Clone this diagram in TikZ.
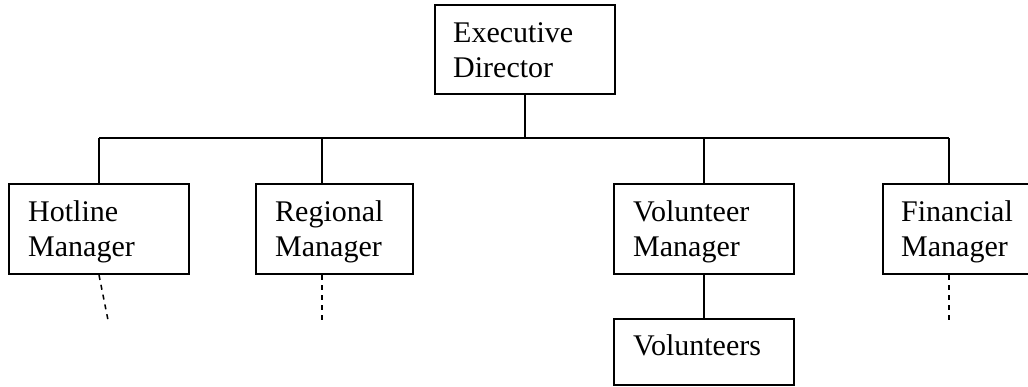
\documentclass[tikz,border=0pt]{standalone}
\usepackage{fontspec}
\setmainfont{Liberation Serif}
\usetikzlibrary{calc}
\begin{document}
\begin{tikzpicture}[x=1pt,y=-1pt,
  box/.style={draw, line width=2pt, inner sep=0pt, anchor=north west},
  lbl/.style={anchor=base west, align=left, inner sep=0pt, font=\fontsize{30}{35}\selectfont},
  conn/.style={line width=2pt},
  dashline/.style={line width=1.5pt, dash pattern=on 5pt off 5pt}]
\useasboundingbox (0,0) rectangle (1028,386);
% boxes
\node[box, minimum width=180pt, minimum height=89pt] (ed)  at (434,4) {};
\node[box, minimum width=180pt, minimum height=90pt] (hot) at (8,183) {};
\node[box, minimum width=157pt, minimum height=90pt] (reg) at (255,183) {};
\node[box, minimum width=180pt, minimum height=90pt] (vm)  at (613,183) {};
\node[box, minimum width=180pt, minimum height=90pt] (fin) at (882,183) {};
\node[box, minimum width=180pt, minimum height=66pt] (vol) at (613,318) {};
% labels (base anchor = baseline of the last line)
\node[lbl] (edt)  at ($(ed.north west)+(19,73)$)  {Executive\\Director};
\node[lbl] (hott) at ($(hot.north west)+(20,73)$) {Hotline\\Manager};
\node[lbl] (regt) at ($(reg.north west)+(20,73)$) {Regional\\Manager};
\node[lbl] (vmt)  at ($(vm.north west)+(20,73)$)  {Volunteer\\Manager};
\node[lbl] (fint) at ($(fin.north west)+(19,73)$) {Financial\\Manager};
\node[lbl] (volt) at ($(vol.north west)+(20,37)$) {Volunteers};
% attach points
\coordinate (regtop) at ($(reg.north west)+(67,0)$);
\coordinate (fintop) at ($(fin.north west)+(67,0)$);
\coordinate (busL) at ($(hot.north)+(0,-45)$);
\coordinate (busR) at (fintop |- busL);
% connectors
\draw[conn] (busL) -- (busR);
\draw[conn] (ed.south) -- (ed.south |- busL);
\draw[conn] (hot.north) -- (busL);
\draw[conn] (regtop) -- (regtop |- busL);
\draw[conn] (vm.north) -- (vm.north |- busL);
\draw[conn] (fintop) -- (busR);
\draw[conn] (vm.south) -- (vol.north);
% dashed continuations
\coordinate (hotend) at ($(hot.south)+(9,45)$);
\coordinate (regbot) at ($(reg.south west)+(67,0)$);
\coordinate (regend) at ($(regbot)+(0,45)$);
\coordinate (finbot) at ($(fin.south west)+(67,0)$);
\coordinate (finend) at ($(finbot)+(0,45)$);
\draw[dashline] (hot.south) -- (hotend);
\draw[dashline] (regbot) -- (regend);
\draw[dashline] (finbot) -- (finend);
\end{tikzpicture}
\end{document}
